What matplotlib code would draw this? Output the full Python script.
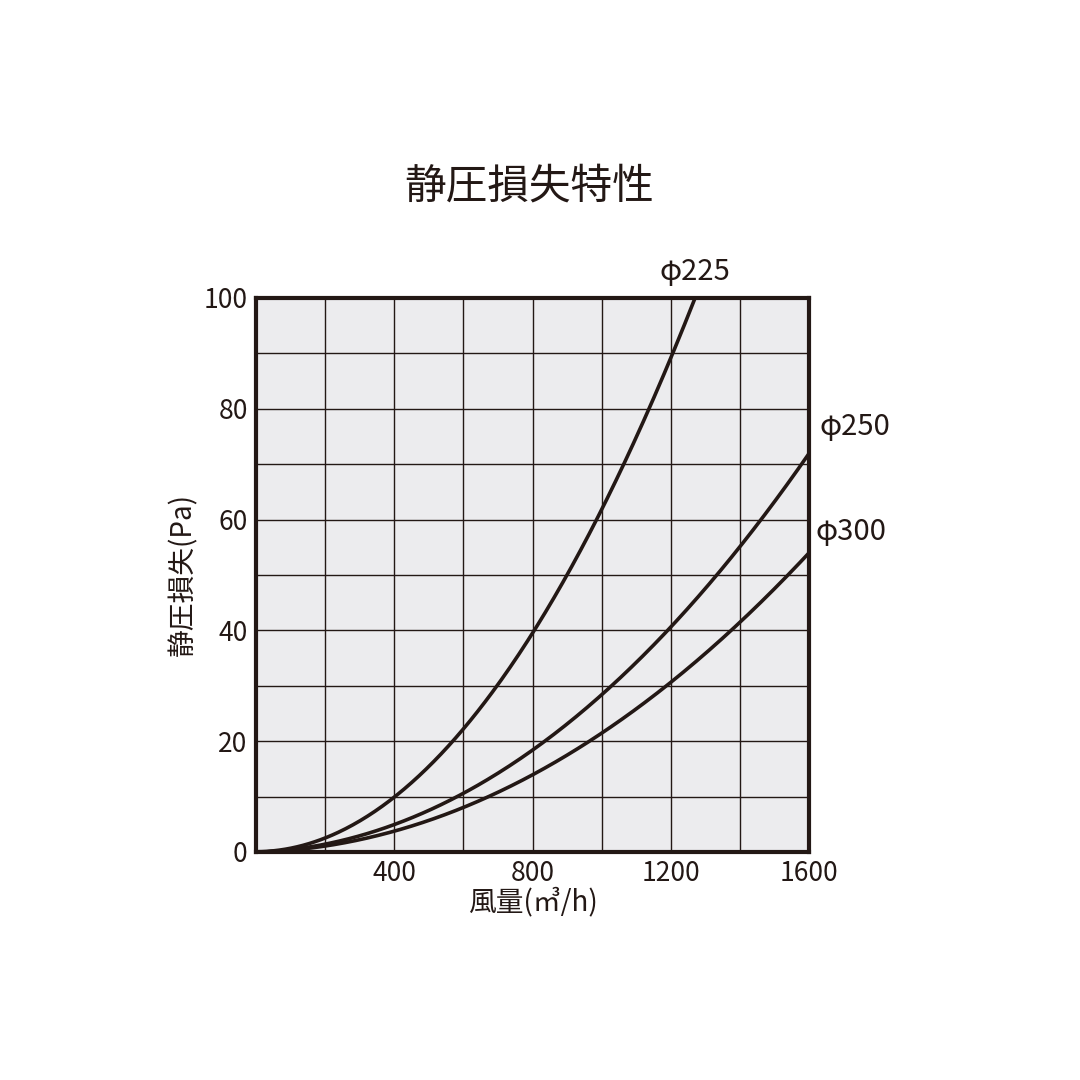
import matplotlib
matplotlib.use("Agg")
import matplotlib.pyplot as plt
import numpy as np

plt.rcParams['font.family'] = ['Noto Sans CJK JP', 'DejaVu Sans']

flow_225 = [0, 200, 400, 600, 800, 1000, 1200, 1270]
pa_225 = [0, 2.6, 10, 22, 39.5, 62, 89, 100]
flow_250 = [0, 200, 400, 600, 800, 1000, 1200, 1400, 1600]
pa_250 = [0, 1.3, 5, 10.5, 18.5, 28.5, 40.5, 55, 72]
flow_300 = [0, 200, 400, 600, 800, 1000, 1200, 1400, 1600]
pa_300 = [0, 1, 3.8, 8, 14, 21.5, 30.5, 41.5, 54]
labels = ['φ225', 'φ250', 'φ300']
xticks = [400, 800, 1200, 1600]
yticks = [0, 20, 40, 60, 80, 100]

col = '#231815'
fig = plt.figure(figsize=(10.8, 10.8), dpi=100)
ax = fig.add_axes([256/1080, 1-852/1080, 553/1080, 554/1080])
ax.set_facecolor('#ECECEE')

def smooth(x, y):
    xs = np.linspace(x[0], x[-1], 300)
    # quadratic-ish fit through points using polynomial interpolation
    c = np.polyfit(x, y, 3)
    return xs, np.polyval(c, xs)

for fx, fy in [(flow_225, pa_225), (flow_250, pa_250), (flow_300, pa_300)]:
    xs, ys = smooth(fx, fy)
    ax.plot(xs, ys, color=col, lw=2.6, zorder=3)

ax.set_xlim(0, 1600)
ax.set_ylim(0, 100)
ax.set_xticks(np.arange(0, 1601, 200), minor=False)
ax.set_yticks(np.arange(0, 101, 10))
ax.grid(True, color=col, lw=1)
ax.set_xticklabels(['' if v not in xticks else str(v) for v in range(0, 1601, 200)], fontsize=19, color=col)
ax.set_yticklabels(['' if v not in yticks else str(v) for v in range(0, 101, 10)], fontsize=19, color=col)
ax.tick_params(length=0, pad=6)
for s in ax.spines.values():
    s.set_linewidth(3); s.set_color(col)

ax.text(1270, 102, labels[0], fontsize=21, color=col, ha='center', va='bottom')
ax.text(1630, 74, labels[1], fontsize=21, color=col, ha='left', va='bottom')
ax.text(1620, 55, labels[2], fontsize=21, color=col, ha='left', va='bottom')

ax.set_xlabel('風量(㎥/h)', fontsize=20, color=col, labelpad=0)
ax.set_ylabel('静圧損失(Pa)', fontsize=20, color=col, labelpad=4)
fig.text(0.49, 1-187/1080, '静圧損失特性', fontsize=30, color=col, ha='center', va='center')

fig.savefig('out.png', dpi=100)
